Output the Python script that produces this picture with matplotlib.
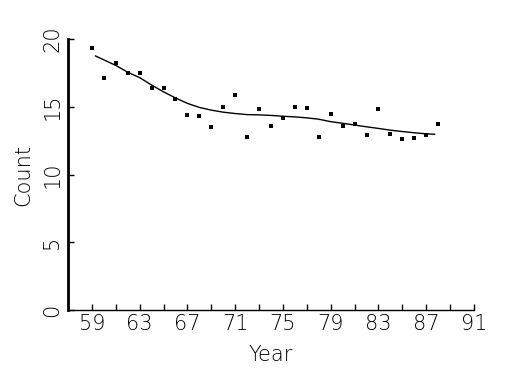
import numpy as np
import matplotlib
matplotlib.use("Agg")
import matplotlib.pyplot as plt

# yearly counts
years = [59, 60, 61, 62, 63, 64, 65, 66, 67, 68, 69, 70, 71, 72, 73,
         74, 75, 76, 77, 78, 79, 80, 81, 82, 83, 84, 85, 86, 87, 88]
counts = [19.3, 17.1, 18.2, 17.5, 17.5, 16.4, 16.4, 15.6, 14.4, 14.3,
          13.5, 15.0, 15.9, 12.8, 14.8, 13.6, 14.2, 15.0, 14.9, 12.8,
          14.5, 13.6, 13.7, 12.9, 14.8, 13.0, 12.6, 12.7, 12.9, 13.7]

# smoothed trend line
fit_years = [59.3, 61, 62, 63, 64, 65, 66, 67, 68, 69, 70, 71, 72, 73, 74,
             75, 76, 77, 78, 79, 80, 81, 82, 83, 84, 85, 86, 87, 87.7]
fit_vals = [18.75, 18.05, 17.55, 17.15, 16.6, 16.1, 15.65, 15.25, 14.95,
            14.75, 14.6, 14.5, 14.42, 14.4, 14.36, 14.3, 14.25, 14.18,
            14.08, 13.9, 13.78, 13.65, 13.52, 13.4, 13.27, 13.17, 13.08,
            13.0, 12.97]

plt.rcParams['font.family'] = ['DejaVu Sans']
plt.rcParams['font.weight'] = 'light'
plt.rcParams['axes.labelweight'] = 'light'
plt.rcParams['font.size'] = 15

fig = plt.figure(figsize=(5.25, 3.75), dpi=100)
ax = fig.add_axes([68/525, 1-310/375, 406/525, 271/375])

ax.plot(years, counts, 's', color='black', markersize=2.8, markeredgewidth=0)
ax.plot(fit_years, fit_vals, color='black', lw=1)

ax.set_xlim(57, 91)
ax.set_ylim(0, 20)
ax.set_xticks(range(59, 92, 4))
ax.set_xticks(range(61, 92, 4), minor=True)
ax.set_yticks([0, 5, 10, 15, 20])

for s in ['top', 'right']:
    ax.spines[s].set_visible(False)
ax.spines['left'].set_linewidth(2)
ax.spines['bottom'].set_linewidth(1)

ax.tick_params(axis='x', which='both', direction='in', length=4, width=1, pad=3)
ax.tick_params(axis='y', direction='in', length=4, width=1, pad=4)
for lab in ax.get_yticklabels():
    lab.set_rotation(90)
    lab.set_va('center')

ax.set_xlabel('Year')
ax.set_ylabel('Count')
ax.xaxis.set_label_coords(0.5, -0.128)
ax.yaxis.set_label_coords(-0.085, 0.5)

fig.savefig('out.png', dpi=100)
